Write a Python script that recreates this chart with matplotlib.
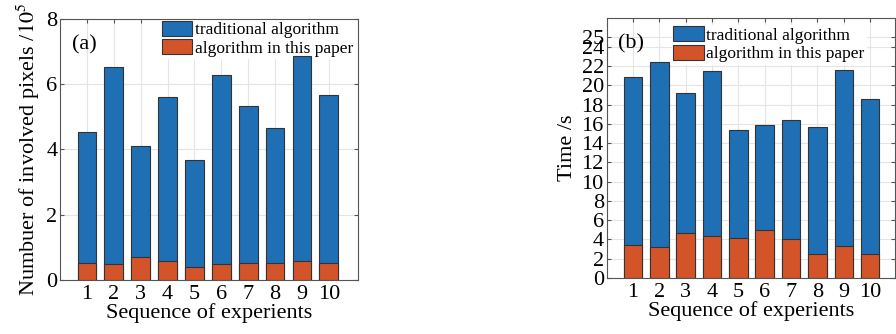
import numpy as np
import matplotlib
matplotlib.use("Agg")
import matplotlib.pyplot as plt

plt.rcParams['font.family'] = ['Liberation Serif', 'DejaVu Serif']
plt.rcParams['mathtext.fontset'] = 'stix'

FONTSIZE = 16
TICKSIZE = 16

experiments = np.arange(1, 11)
tick_labels = [str(i) for i in experiments]

# (a) number of involved pixels, unit 10^5
pixels_traditional = [4.54, 6.53, 4.12, 5.61, 3.69, 6.29, 5.33, 4.67, 6.87, 5.66]
pixels_proposed = [0.51, 0.49, 0.70, 0.57, 0.41, 0.49, 0.51, 0.51, 0.59, 0.51]

# (b) time in seconds
time_traditional = [20.9, 22.4, 19.2, 21.5, 15.4, 15.9, 16.4, 15.7, 21.6, 18.6]
time_proposed = [3.46, 3.2, 4.67, 4.33, 4.15, 5.0, 4.05, 2.5, 3.3, 2.5]

legend_labels = ['traditional algorithm', 'algorithm in this paper']
BLUE = '#1f6fb5'
ORANGE = '#d4542a'

fig = plt.figure(figsize=(8.96, 3.34), dpi=100)
ax1 = fig.add_axes([0.067, 0.162, 0.333, 0.781])
ax2 = fig.add_axes([0.677, 0.168, 0.322, 0.778])


def draw(ax, trad, prop, ylim, yticks, ylabel, tag, leg_anchor):
    ax.set_axisbelow(True)
    ax.grid(True, color='#e4e4e4', linewidth=0.8)
    ax.bar(experiments, trad, width=0.7, color=BLUE, edgecolor='#333333',
           linewidth=0.8, label=legend_labels[0], zorder=2)
    ax.bar(experiments, prop, width=0.7, color=ORANGE, edgecolor='#333333',
           linewidth=0.8, label=legend_labels[1], zorder=2)
    ax.set_xlim(0, 11.1)
    ax.set_ylim(*ylim)
    ax.set_xticks(experiments)
    ax.set_xticklabels(tick_labels, fontsize=TICKSIZE)
    ax.set_yticks(yticks)
    ax.tick_params(axis='y', labelsize=TICKSIZE, pad=2)
    ax.tick_params(axis='x', pad=4)
    ax.tick_params(direction='in', length=3, top=True, right=True,
                   color='#555555')
    for s in ax.spines.values():
        s.set_color('#555555')
    ax.set_xlabel('Sequence of experients', fontsize=FONTSIZE, labelpad=-1)
    ax.set_ylabel(ylabel, fontsize=FONTSIZE, labelpad=3)
    ax.text(0.04, 0.9, tag, transform=ax.transAxes, fontsize=TICKSIZE,
            va='center', ha='left')
    leg = ax.legend(loc='upper left', bbox_to_anchor=leg_anchor,
                    fontsize=12.5, frameon=True, handlelength=1.75,
                    handleheight=0.95, borderaxespad=0, labelspacing=0.06,
                    handletextpad=0.15, borderpad=0.1)
    leg.get_frame().set_edgecolor('white')
    leg.get_frame().set_alpha(1)
    leg.get_frame().set_boxstyle('square', pad=0)
    leg.set_zorder(1.5)


draw(ax1, pixels_traditional, pixels_proposed, (0, 8), [0, 2, 4, 6, 8],
     'Numbuer of involved pixels /$10^5$', '(a)', (0.335, 1.0))
draw(ax2, time_traditional, time_proposed, (0, 27),
     list(range(0, 25, 2)) + [25], 'Time /s', '(b)', (0.225, 0.975))
ax2.set_xlim(0, 10.95)

fig.savefig('out.png', dpi=100)
